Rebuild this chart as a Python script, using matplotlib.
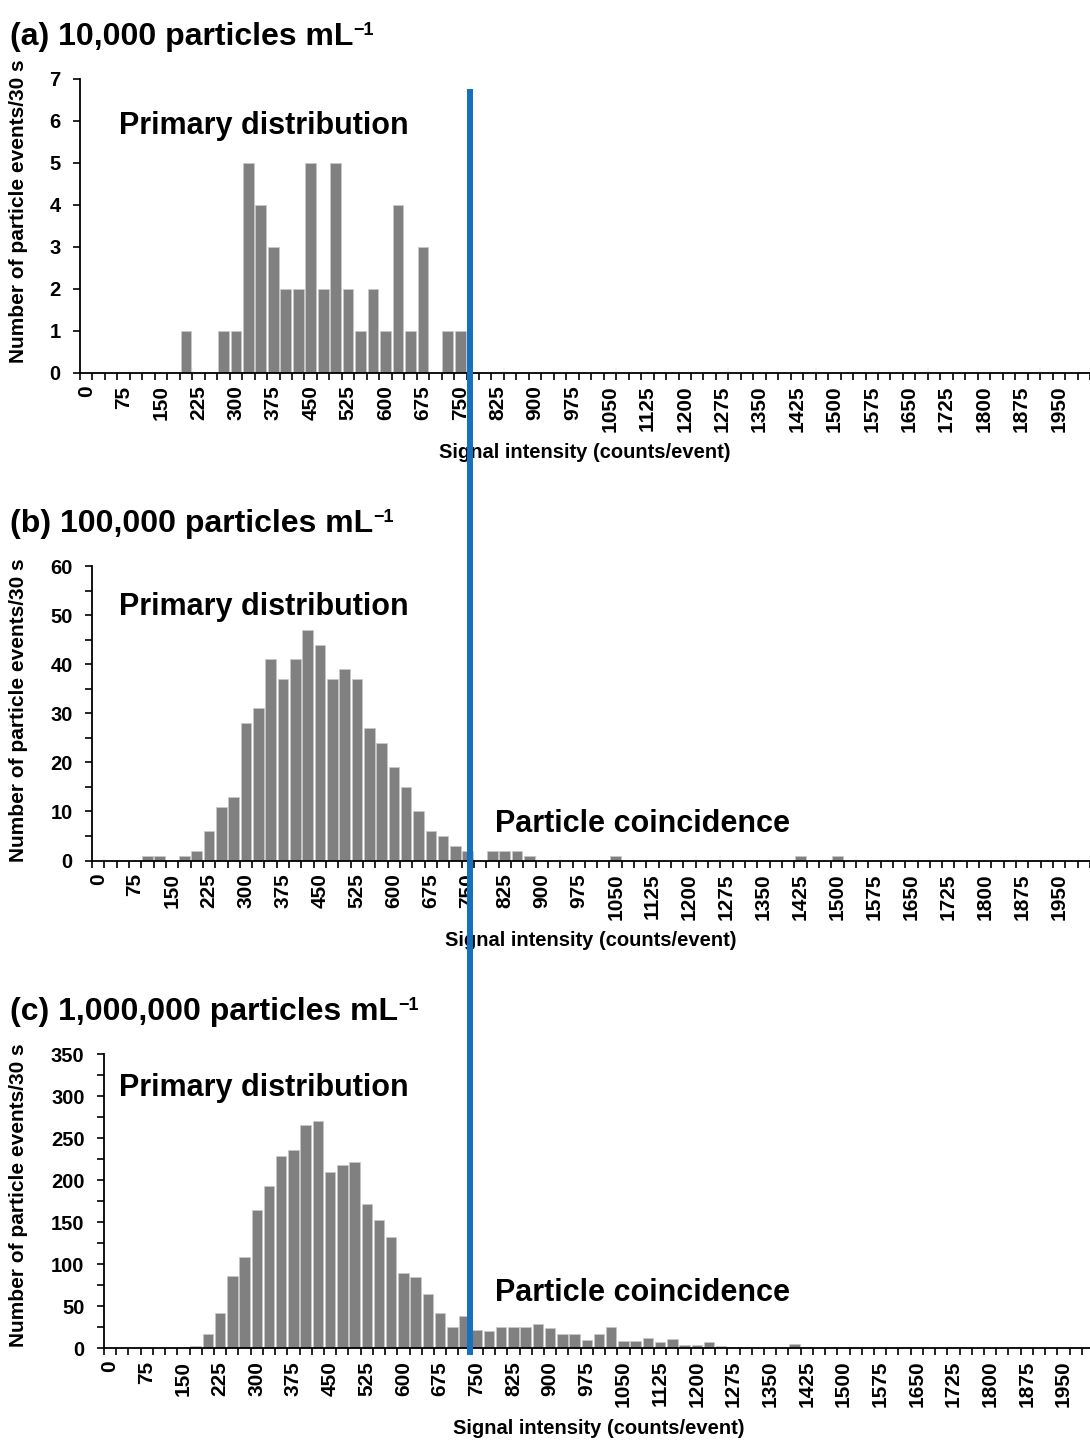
import matplotlib
matplotlib.use('Agg')
import matplotlib.pyplot as plt
from matplotlib.lines import Line2D
from matplotlib.ticker import MultipleLocator
import numpy as np

plt.rcParams['font.family'] = ['Liberation Sans', 'DejaVu Sans']
plt.rcParams['font.weight'] = 'bold'
plt.rcParams['axes.labelweight'] = 'bold'

# histogram bins (counts/event), 25 wide
bin_width = 25
n_bins = 80
bin_starts = np.arange(n_bins) * bin_width

# (a) 10,000 particles/mL
a_bins = [200, 275, 300, 325, 350, 375, 400, 425, 450, 475, 500, 525, 550, 575,
          600, 625, 650, 675, 725, 750]
a_counts = [1, 1, 1, 5, 4, 3, 2, 2, 5, 2, 5, 2, 1, 2, 1, 4, 1, 3, 1, 1]

# (b) 100,000 particles/mL
b_bins = [100, 125, 175, 200, 225, 250, 275, 300, 325, 350, 375, 400, 425, 450,
          475, 500, 525, 550, 575, 600, 625, 650, 675, 700, 725, 750, 800, 825,
          850, 875, 1050, 1425, 1500]
b_counts = [1, 1, 1, 2, 6, 11, 13, 28, 31, 41, 37, 41, 47, 44, 37, 39, 37, 27, 24,
            19, 15, 10, 6, 5, 3, 2, 2, 2, 2, 1, 1, 1, 1]

# (c) 1,000,000 particles/mL
c_bins = [175, 200, 225, 250, 275, 300, 325, 350, 375, 400, 425, 450, 475, 500,
          525, 550, 575, 600, 625, 650, 675, 700, 725, 750, 775, 800, 825, 850,
          875, 900, 925, 950, 975, 1000, 1025, 1050, 1075, 1100, 1125, 1150, 1175,
          1200, 1225, 1250, 1275, 1300, 1400, 1425, 1475, 1525, 1575, 1625, 1725,
          1750, 1850]
c_counts = [3, 17, 42, 86, 108, 165, 193, 229, 236, 266, 270, 210, 218, 222, 172,
            152, 132, 90, 85, 64, 42, 25, 38, 22, 21, 25, 25, 25, 29, 24, 17, 17,
            10, 17, 25, 9, 9, 12, 8, 11, 4, 4, 8, 3, 1, 1, 5, 2, 1, 1, 2, 2, 2, 1, 1]

titles = ['(a) 10,000 particles mL', '(b) 100,000 particles mL',
          '(c) 1,000,000 particles mL']
y_max = [7, 60, 350]
y_major = [1, 10, 50]
y_minor = [None, 5, 25]

W, H = 1090, 1441
fig = plt.figure(figsize=(W / 100, H / 100), dpi=100)


def px(x, y):
    return x / W, 1 - y / H


def box(left, top, right, bottom):
    return [left / W, 1 - bottom / H, (right - left) / W, (bottom - top) / H]


# axes boxes in pixels: left, top, right, bottom
boxes = [(80, 79, 1090, 373), (92, 566, 1090, 860.5), (104, 1054, 1094, 1348.3)]
title_y = [45, 532, 1020]
primary_y = [134, 615, 1096]
coinc_y = [None, 832, 1301]
xlabel_y = [452, 940, 1428]
ylabel_yc = [211, 710, 1195]

for k, (bins, counts) in enumerate([(a_bins, a_counts), (b_bins, b_counts),
                                    (c_bins, c_counts)]):
    ax = fig.add_axes(box(*boxes[k]))
    heights = np.zeros(n_bins)
    heights[np.array(bins) // bin_width] = counts
    ax.bar(np.arange(n_bins), heights, width=0.86, color='#808080',
           edgecolor='#c8c8c8', linewidth=0.5, zorder=2)

    ax.set_xlim(-0.5, n_bins + 0.5)
    ax.set_ylim(0, y_max[k])
    for side in ['top', 'right']:
        ax.spines[side].set_visible(False)
    for side in ['left', 'bottom']:
        ax.spines[side].set_linewidth(1.3)

    # labels every third bin, tick marks on bin boundaries
    ax.set_xticks(np.arange(0, n_bins, 3))
    ax.set_xticklabels([str(v) for v in bin_starts[::3]], rotation=90,
                       fontsize=15)
    ax.set_xticks(np.arange(-0.5, n_bins + 1, 1), minor=True)
    ax.tick_params(axis='x', which='major', length=0, pad=9)
    ax.tick_params(axis='x', which='minor', length=5, width=1.2)

    ax.yaxis.set_major_locator(MultipleLocator(y_major[k]))
    if y_minor[k]:
        ax.yaxis.set_minor_locator(MultipleLocator(y_minor[k]))
        ax.tick_params(axis='y', which='minor', length=5, width=1.2)
    ax.tick_params(axis='y', which='major', length=5, width=1.2, pad=9,
                   labelsize=14.5)

    left, top, right, bottom = boxes[k]
    ax.set_ylabel('Number of particle events/30 s', fontsize=15)
    ax.yaxis.set_label_coords((28 - left) / (right - left),
                              (bottom - ylabel_yc[k]) / (bottom - top))

    ax.set_xlabel('Signal intensity (counts/event)', fontsize=14.5)
    ax.xaxis.set_label_coords(0.5, (bottom - xlabel_y[k]) / (bottom - top))
    ax.xaxis.label.set_va('center')

    t = fig.text(*px(10, title_y[k]), titles[k], fontsize=23, va='baseline')
    ax.annotate('\u22121', xy=(1.0, 1.0), xycoords=t, fontsize=13,
                va='top', ha='left', annotation_clip=False)

    fig.text(*px(119, primary_y[k]), 'Primary distribution', fontsize=22,
             va='baseline')
    if coinc_y[k]:
        fig.text(*px(495, coinc_y[k]), 'Particle coincidence', fontsize=22,
                 va='baseline')

# threshold line running through all three panels
fig.add_artist(Line2D([470 / W, 470 / W], [1 - 92 / H, 1 - 1352 / H],
                      transform=fig.transFigure, color='#1570BE', linewidth=4.3,
                      zorder=10))

fig.savefig('out.png', dpi=100)
